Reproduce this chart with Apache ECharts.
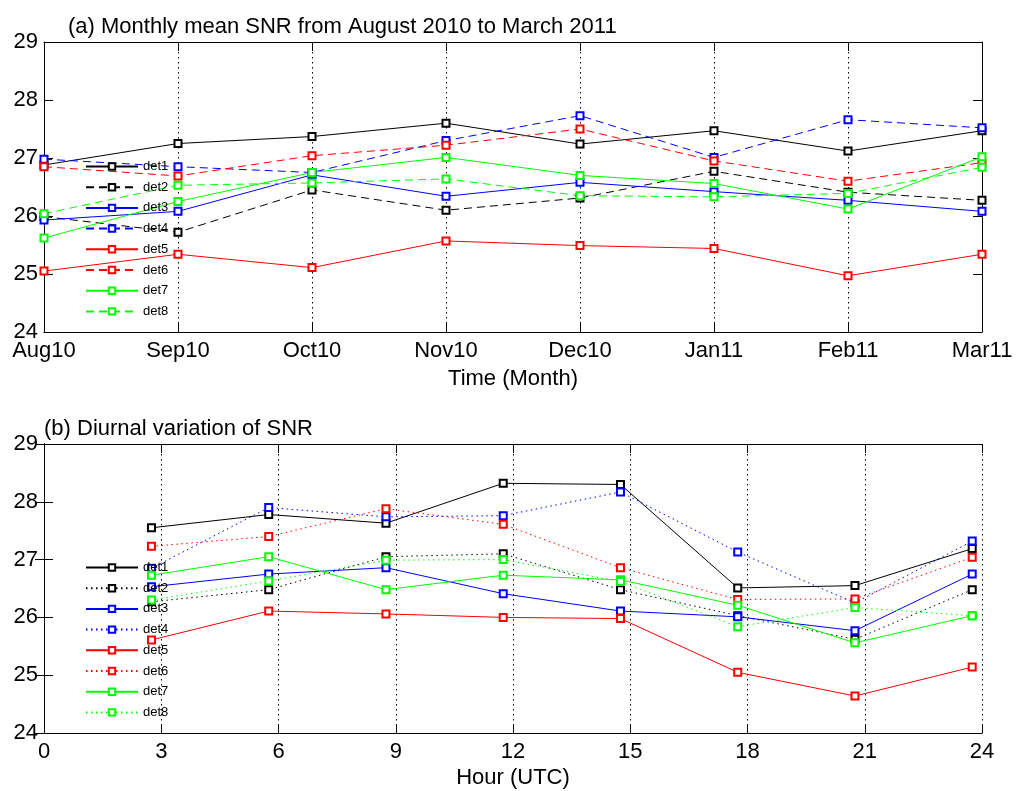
<!DOCTYPE html>
<html>
<head>
<meta charset="utf-8">
<script src="https://cdn.jsdelivr.net/npm/echarts@6/dist/echarts.min.js"></script>
<style>
html,body{margin:0;padding:0;background:#fff;}
#chart{width:1016px;height:791px;}
</style>
</head>
<body>
<div id="chart"></div>
<script>
// ---- Data ----
var months = ['Aug10','Sep10','Oct10','Nov10','Dec10','Jan11','Feb11','Mar11'];
var detNames = ['det1','det2','det3','det4','det5','det6','det7','det8'];
// Panel (a): monthly mean SNR
var mDet1 = [26.88, 27.25, 27.37, 27.60, 27.24, 27.47, 27.12, 27.47];
var mDet2 = [25.99, 25.72, 26.45, 26.10, 26.31, 26.77, 26.41, 26.27];
var mDet3 = [25.93, 26.08, 26.71, 26.34, 26.58, 26.42, 26.27, 26.08];
var mDet4 = [26.98, 26.85, 26.75, 27.30, 27.73, 27.01, 27.66, 27.52];
var mDet5 = [25.05, 25.34, 25.11, 25.57, 25.49, 25.44, 24.97, 25.34];
var mDet6 = [26.85, 26.69, 27.04, 27.22, 27.50, 26.95, 26.60, 26.92];
var mDet7 = [25.62, 26.25, 26.75, 27.01, 26.70, 26.56, 26.12, 27.02];
var mDet8 = [26.04, 26.53, 26.57, 26.64, 26.35, 26.33, 26.39, 26.84];
// Panel (b): diurnal variation
var hours = [2.75, 5.75, 8.75, 11.75, 14.75, 17.75, 20.75, 23.75];
var hDet1 = [27.55, 27.78, 27.63, 28.32, 28.30, 26.51, 26.55, 27.19];
var hDet2 = [26.27, 26.48, 27.05, 27.10, 26.48, 26.03, 25.62, 26.48];
var hDet3 = [26.53, 26.75, 26.86, 26.41, 26.11, 26.01, 25.77, 26.75];
var hDet4 = [26.85, 27.90, 27.74, 27.76, 28.17, 27.13, 26.25, 27.32];
var hDet5 = [25.61, 26.11, 26.06, 26.00, 25.98, 25.05, 24.64, 25.14];
var hDet6 = [27.23, 27.40, 27.88, 27.61, 26.86, 26.31, 26.32, 27.04];
var hDet7 = [26.73, 27.05, 26.48, 26.73, 26.65, 26.21, 25.56, 26.03];
var hDet8 = [26.30, 26.63, 26.99, 27.00, 26.62, 25.84, 26.17, 26.03];
var hourTicks = [0, 3, 6, 9, 12, 15, 18, 21, 24];
var yMin = 24, yMax = 29;

var monthly = [mDet1, mDet2, mDet3, mDet4, mDet5, mDet6, mDet7, mDet8];
var diurnal = [hDet1, hDet2, hDet3, hDet4, hDet5, hDet6, hDet7, hDet8];
var colors = ['#000000','#000000','#0000ff','#0000ff','#ff0000','#ff0000','#00ff00','#00ff00'];

var FONT = '"Liberation Sans", Arial, sans-serif';
var labelStyle = {fontFamily: FONT, fontSize: 22, color: '#000'};

function yAxes(gi) {
  return [
    {type:'value', gridIndex:gi, min:yMin, max:yMax, interval:1, position:'left',
     axisLine:{show:true, lineStyle:{color:'#000', width:1}},
     axisTick:{show:true, inside:true, length:9, lineStyle:{color:'#000'}},
     axisLabel:Object.assign({margin:6}, labelStyle),
     splitLine:{show:false}},
    {type:'value', gridIndex:gi, min:yMin, max:yMax, interval:1, position:'right',
     axisLine:{show:true, lineStyle:{color:'#000', width:1}},
     axisTick:{show:true, inside:true, length:9, lineStyle:{color:'#000'}},
     axisLabel:{show:false}, splitLine:{show:false}}
  ];
}

var series = [];
for (var i = 0; i < 8; i++) {
  var dashed = (i % 2 === 1);
  series.push({
    name: detNames[i], type:'line', xAxisIndex:0, yAxisIndex:0,
    data: monthly[i], symbol:'emptyRect', symbolSize:7, showSymbol:true,
    color: colors[i],
    lineStyle:{color:colors[i], width:1, type: dashed ? [8,5] : 'solid'},
    itemStyle:{color:colors[i], borderColor:colors[i], borderWidth:1},
    animation:false, z: 2
  });
}
for (var j = 0; j < 8; j++) {
  var dotted = (j % 2 === 1);
  var pts = hours.map(function(h, k){ return [h, diurnal[j][k]]; });
  series.push({
    name: 'b-' + detNames[j], type:'line', xAxisIndex:2, yAxisIndex:2,
    data: pts, symbol:'emptyRect', symbolSize:7, showSymbol:true,
    color: colors[j],
    lineStyle:{color:colors[j], width:1, type: dotted ? [1.5,3.5] : 'solid'},
    itemStyle:{color:colors[j], borderColor:colors[j], borderWidth:1},
    animation:false, z: 2
  });
}

var option = {
  backgroundColor:'#fff',
  animation:false,
  title:[
    {text:'(a) Monthly mean SNR from August 2010 to March 2011', left:68, top:16, padding:0,
     textStyle:{fontFamily:FONT, fontSize:22, fontWeight:'normal', color:'#000'}},
    {text:'(b) Diurnal variation of SNR', left:44, top:418, padding:0,
     textStyle:{fontFamily:FONT, fontSize:22, fontWeight:'normal', color:'#000'}}
  ],
  grid:[
    {left:44, right:34, top:42, height:290, containLabel:false},
    {left:44, right:34, top:444, height:289, containLabel:false}
  ],
  legend:[
    {orient:'vertical', left:85, top:160, padding:0, itemWidth:52, itemHeight:8, itemGap:7.7,
     data: detNames.slice(),
     textStyle:{fontFamily:FONT, fontSize:13, color:'#000'}, selectedMode:false},
    {orient:'vertical', left:85, top:561, padding:0, itemWidth:52, itemHeight:8, itemGap:7.7,
     data: detNames.map(function(n){return 'b-' + n;}),
     formatter:function(n){return n.replace('b-','');},
     textStyle:{fontFamily:FONT, fontSize:13, color:'#000'}, selectedMode:false}
  ],
  xAxis:[
    {type:'category', gridIndex:0, data:months, boundaryGap:false, position:'bottom',
     axisLine:{show:true, lineStyle:{color:'#000', width:1}},
     axisTick:{show:true, inside:true, length:9, lineStyle:{color:'#000'}},
     axisLabel:Object.assign({margin:8, interval:0}, labelStyle),
     splitLine:{show:true, interval:0, lineStyle:{color:'#000', type:[1.5,3.5], width:1}},
     name:'Time (Month)', nameLocation:'middle', nameGap:36,
     nameTextStyle:labelStyle},
    {type:'category', gridIndex:0, data:months, boundaryGap:false, position:'top',
     axisLine:{show:true, lineStyle:{color:'#000', width:1}},
     axisTick:{show:true, inside:true, length:9, lineStyle:{color:'#000'}},
     axisLabel:{show:false}, splitLine:{show:false}},
    {type:'value', gridIndex:1, min:0, max:24, interval:3, position:'bottom',
     axisLine:{show:true, lineStyle:{color:'#000', width:1}},
     axisTick:{show:true, inside:true, length:9, lineStyle:{color:'#000'}},
     axisLabel:Object.assign({margin:8}, labelStyle),
     splitLine:{show:true, lineStyle:{color:'#000', type:[1.5,3.5], width:1}},
     name:'Hour (UTC)', nameLocation:'middle', nameGap:34,
     nameTextStyle:labelStyle},
    {type:'value', gridIndex:1, min:0, max:24, interval:3, position:'top',
     axisLine:{show:true, lineStyle:{color:'#000', width:1}},
     axisTick:{show:true, inside:true, length:9, lineStyle:{color:'#000'}},
     axisLabel:{show:false}, splitLine:{show:false}}
  ],
  yAxis: yAxes(0).concat(yAxes(1)),
  series: series
};

var chart = echarts.init(document.getElementById('chart'), null, {renderer:'canvas'});
chart.setOption(option);
</script>
</body>
</html>
